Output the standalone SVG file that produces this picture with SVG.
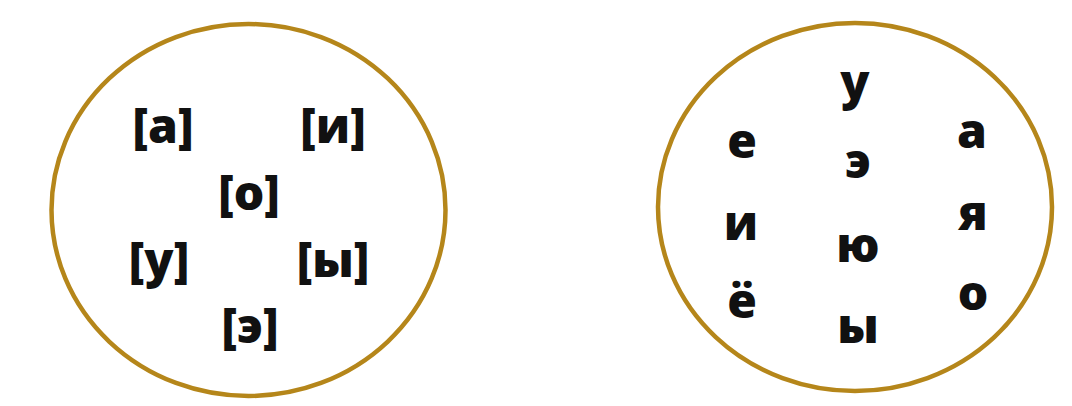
<svg xmlns="http://www.w3.org/2000/svg" width="1072" height="406" viewBox="0 0 1072 406">
<style>
.ring{fill:none;stroke:#B5861A;stroke-width:4.5}
.t{font-family:"Open Sans","DejaVu Sans",sans-serif;font-weight:800;font-size:48px;fill:#111;text-anchor:middle}
</style>
<rect width="1072" height="406" fill="#fff"/>
<g id="sounds">
<ellipse class="ring" cx="248.5" cy="210" rx="197" ry="186"/>
<text class="t" x="163" y="143">[а]</text>
<text class="t" x="333" y="143">[и]</text>
<text class="t" x="249" y="210">[о]</text>
<text class="t" x="159" y="277">[у]</text>
<text class="t" x="333" y="277">[ы]</text>
<text class="t" x="250" y="343">[э]</text>
</g>
<g id="letters">
<ellipse class="ring" cx="855" cy="207" rx="197" ry="184"/>
<text class="t" x="855" y="99">у</text>
<text class="t" x="742" y="158">е</text>
<text class="t" x="858" y="178">э</text>
<text class="t" x="972" y="148">а</text>
<text class="t" x="741" y="240">и</text>
<text class="t" x="973" y="230">я</text>
<text class="t" x="858" y="262">ю</text>
<text class="t" x="742" y="318">ё</text>
<text class="t" x="973" y="310">о</text>
<text class="t" x="858" y="343">ы</text>
</g>
<g id="connectors"/>
</svg>
